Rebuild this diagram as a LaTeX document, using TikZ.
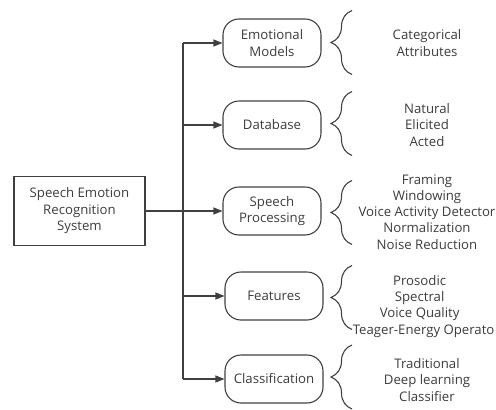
\documentclass[tikz,border=0pt]{standalone}
\usepackage{fontspec}
\setmainfont{Open Sans}
\usetikzlibrary{arrows.meta}
\usetikzlibrary{calc}
\usetikzlibrary{decorations.pathreplacing}
\definecolor{myline}{HTML}{404040}
\definecolor{mytext}{HTML}{3C3C3C}

\begin{document}
\begin{tikzpicture}[x=1pt,y=-1pt,>={Triangle[length=9pt,width=7pt]},
  line width=1.1pt,
  root node/.style={rectangle,draw=myline,text=mytext,minimum width=131pt,
    minimum height=69pt,align=center,font=\fontsize{13.2}{16.5}\selectfont},
  stage node/.style={rectangle,rounded corners=16pt,draw=myline,text=mytext,
    minimum width=98pt,minimum height=48pt,align=center,
    font=\fontsize{13.2}{16.8}\selectfont},
  item node/.style={align=center,text=mytext,inner sep=0pt,
    font=\fontsize{13.2}{16.2}\selectfont},
  brace line/.style={draw=myline,decorate,decoration={brace,amplitude=21pt}}]

  \useasboundingbox (0,0) rectangle (496,410);

  \node[root node] (ser) at (79.5,211) {Speech Emotion\\Recognition\\System};

  \node[stage node] (emo)  at (272,43)  {Emotional\\Models};
  \node[stage node] (db)   at (272,125) {Database};
  \node[stage node] (proc) at (272,211) {Speech\\Processing};
  \node[stage node] (feat) at (274,296) {Features};
  \node[stage node] (cls)  at (274,379) {Classification};

  \coordinate (trunk) at (183,211);

  \node[item node] (emoitems)  at (427,43)  {Categorical\\Attributes};
  \node[item node] (dbitems)   at (427,125) {Natural\\Elicited\\Acted};
  \node[item node] (procitems) at (427,212) {Framing\\Windowing\\Voice Activity Detector\\Normalization\\Noise Reduction};
  \node[item node,anchor=north east] (featitems) at (495,275) {\makebox[0pt][r]{}Prosodic\hphantom{o}\\Spectral\hphantom{o}\\Voice Quality\hphantom{o}\\Teager-Energy Operato};
  \node[item node] (clsitems)  at (427,380) {Traditional\\Deep learning\\Classifier};

  % tree lines
  \draw[myline] (trunk |- emo) -- (trunk |- cls);
  \draw[myline,->] (ser) -- (proc);
  \foreach \s in {emo,db,feat,cls}
    \draw[myline,->] (trunk |- \s) -- (\s);

  % braces
  \foreach \s/\y in {emo/42.5,db/123.5,proc/212.5,feat/297.5,cls/377}
    \draw[brace line] (352,\y+32) -- (352,\y-32);

\end{tikzpicture}
\end{document}
